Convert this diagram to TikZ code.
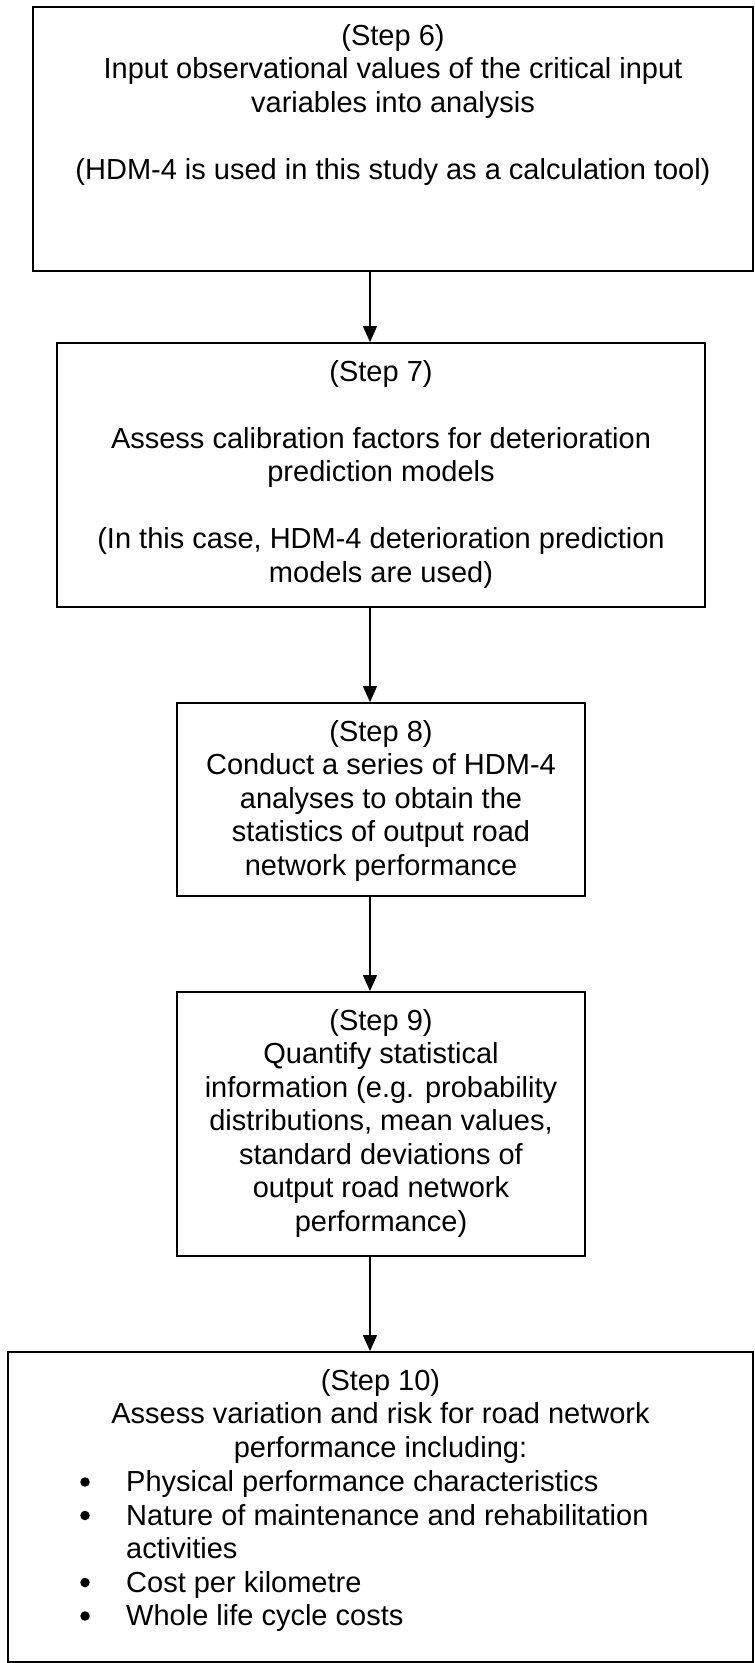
\documentclass[tikz,border=0pt]{standalone}
\usepackage{fontspec}
\setmainfont{Liberation Sans}
\usetikzlibrary{arrows.meta}
\begin{document}
\begin{tikzpicture}[x=1pt,y=-1pt,
  box/.style={draw=black, line width=1.8pt, rectangle, inner sep=0pt},
  txt/.style={anchor=north, inner sep=0pt, align=center, font=\fontsize{29}{33.5}\selectfont},
  bul/.style={anchor=north west, inner sep=0pt, align=left, font=\fontsize{29}{33.5}\selectfont},
  dot/.style={circle, fill=black, inner sep=0pt, minimum size=9.5pt},
  arr/.style={line width=1.3pt, -{Triangle[length=16pt,width=14pt]}}
]
\useasboundingbox (0,0) rectangle (755,1663);
\fill[white] (0,0) rectangle (755,1663);

\node[box, minimum width=720pt, minimum height=264pt] (s6) at (393,139) {};
\node[box, minimum width=648pt, minimum height=264pt] (s7) at (381,475) {};
\node[box, minimum width=408pt, minimum height=193pt] (s8) at (381,799.5) {};
\node[box, minimum width=408pt, minimum height=264pt] (s9) at (381,1124) {};
\node[box, minimum width=745pt, minimum height=310pt] (s10) at (380.5,1507) {};

\node[txt] (t6) at ([yshift=-15.55pt]s6.north) {\strut(Step 6)\\Input observational values of the critical input\\variables into analysis\\[33.5pt](HDM-4 is used in this study as a calculation tool)};
\node[txt] (t7) at ([yshift=-15.55pt]s7.north) {\strut(Step 7)\\[33.5pt]Assess calibration factors for deterioration\\prediction models\\[33.5pt](In this case, HDM-4 deterioration prediction\\models are used)};
\node[txt] (t8) at ([yshift=-15.55pt]s8.north) {\strut(Step 8)\\Conduct a series of HDM-4\\analyses to obtain the\\statistics of output road\\network performance};
\node[txt] (t9) at ([yshift=-15.55pt]s9.north) {\strut(Step 9)\\Quantify statistical\\information (e.g. probability\\distributions, mean values,\\standard deviations of\\output road network\\performance)};
\node[txt] (t10) at ([yshift=-15.55pt]s10.north) {\strut(Step 10)\\Assess variation and risk for road network\\performance including:};
\node[bul] (b10) at (126,1468.05) {\strut Physical performance characteristics\\Nature of maintenance and rehabilitation\\activities\\Cost per kilometre\\Whole life cycle costs};

\node[dot] (d1) at (85,1482) {};
\node[dot] (d2) at (85,1515.5) {};
\node[dot] (d3) at (85,1582.5) {};
\node[dot] (d4) at (85,1616) {};

\coordinate (ax) at (370,0);
\draw[arr] (s6.south -| ax) -- (s7.north -| ax);
\draw[arr] (s7.south -| ax) -- (s8.north -| ax);
\draw[arr] (s8.south -| ax) -- (s9.north -| ax);
\draw[arr] (s9.south -| ax) -- (s10.north -| ax);
\end{tikzpicture}
\end{document}
